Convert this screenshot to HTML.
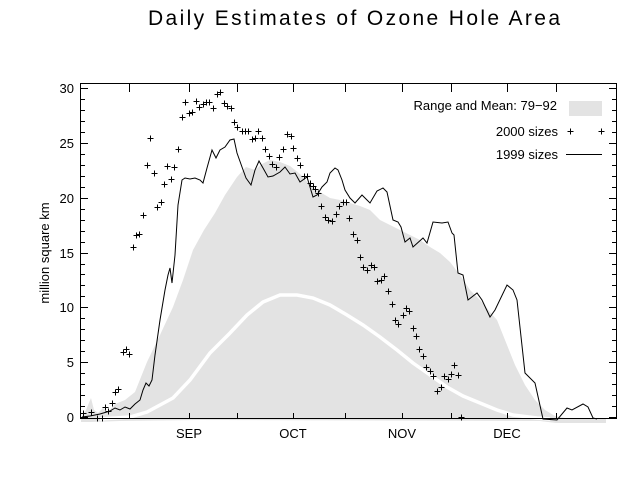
<!DOCTYPE html>
<html><head><meta charset="utf-8"><style>
html,body{margin:0;padding:0;background:#fff;}
svg{display:block;font-family:"Liberation Sans",sans-serif;}
</style></head><body>
<svg width="640" height="480" viewBox="0 0 640 480" xmlns="http://www.w3.org/2000/svg">
<rect width="640" height="480" fill="#fff"/>
<text x="354" y="25" font-size="21" text-anchor="middle" textLength="412" lengthAdjust="spacing" fill="#000">Daily Estimates of Ozone Hole Area</text>

<polygon fill="#e3e3e3" points="81,418 86,410 91,398 94,410 98,413 103,408 108,412 115,404 125,400 135,392 147,362 160,335 173,307 183,280 193,250 204,230 215,213 225,195 237,177 246,167 255,170 262,164 270,160 280,162 290,166 300,174 310,185 320,192 330,198 340,200 350,203 360,206 370,210 380,220 390,225 400,230 410,235 420,240 430,247 440,253 450,262 460,275 470,290 480,300 490,312 497,320 505,340 515,365 525,385 535,400 545,410 555,416 570,419 606,419 606,423 556,423 540,421 200,420 120,421 90,422 81,422"/>

<polyline fill="none" stroke="#fff" stroke-width="3.5" points="100,419 130,417 147,412 173,398 190,380 210,353 230,333 247,315 263,302 280,295 297,295 313,298 330,305 347,315 363,325 380,337 397,350 413,363 430,375 447,387 463,396 480,403 497,410 513,415 537,418 550,419"/>

<polyline fill="none" stroke="#000" stroke-width="1" points="82,417 90,416 100,414 110,411 115,408 120,410 125,407 130,409 135,404 140,400 143,390 146,383 149,386 152,380 155,355 160,320 165,290 168,275 170,268 172,283 175,255 178,205 182,180 185,178 190,179 195,178 200,180 203,183 207,168 212,150 216,158 220,150 225,147 230,140 234,139 237,153 242,167 246,178 251,185 255,170 259,161 263,168 268,177 273,176 280,172 285,167 290,174 295,173 300,182 307,177 313,197 317,195 322,187 327,182 330,173 335,168 338,170 342,180 345,190 350,198 355,203 362,195 367,200 370,203 377,191 383,188 387,192 393,220 398,222 401,227 405,242 410,238 413,247 423,238 427,243 433,222 442,223 448,222 452,233 454,235 458,273 463,275 468,300 477,293 482,300 490,317 495,310 507,285 513,290 517,300 525,373 535,383 543,419 557,420 567,408 572,410 583,404 588,407 593,418 597,419"/>

<g stroke="#000" stroke-width="1" shape-rendering="crispEdges" transform="translate(0.5,0.5)">
<path d="M83,413m-3,0h6m-3,-3v6M91,412m-3,0h6m-3,-3v6M97,418m-3,0h6m-3,-3v6M102,418m-3,0h6m-3,-3v6M105,407m-3,0h6m-3,-3v6M108,411m-3,0h6m-3,-3v6M112,403m-3,0h6m-3,-3v6M115,392m-3,0h6m-3,-3v6M118,389m-3,0h6m-3,-3v6M123,352m-3,0h6m-3,-3v6M126,349m-3,0h6m-3,-3v6M129,354m-3,0h6m-3,-3v6M133,247m-3,0h6m-3,-3v6M136,235m-3,0h6m-3,-3v6M139,234m-3,0h6m-3,-3v6M143,215m-3,0h6m-3,-3v6M147,165m-3,0h6m-3,-3v6M150,138m-3,0h6m-3,-3v6M154,173m-3,0h6m-3,-3v6M157,207m-3,0h6m-3,-3v6M161,202m-3,0h6m-3,-3v6M164,184m-3,0h6m-3,-3v6M167,166m-3,0h6m-3,-3v6M171,179m-3,0h6m-3,-3v6M174,167m-3,0h6m-3,-3v6M178,149m-3,0h6m-3,-3v6M182,117m-3,0h6m-3,-3v6M185,102m-3,0h6m-3,-3v6M189,113m-3,0h6m-3,-3v6M192,112m-3,0h6m-3,-3v6M196,101m-3,0h6m-3,-3v6M199,107m-3,0h6m-3,-3v6M203,104m-3,0h6m-3,-3v6M206,102m-3,0h6m-3,-3v6M209,102m-3,0h6m-3,-3v6M213,108m-3,0h6m-3,-3v6M217,94m-3,0h6m-3,-3v6M220,92m-3,0h6m-3,-3v6M224,103m-3,0h6m-3,-3v6M227,106m-3,0h6m-3,-3v6M231,108m-3,0h6m-3,-3v6M234,122m-3,0h6m-3,-3v6M237,127m-3,0h6m-3,-3v6M242,131m-3,0h6m-3,-3v6M245,131m-3,0h6m-3,-3v6M248,131m-3,0h6m-3,-3v6M252,139m-3,0h6m-3,-3v6M255,138m-3,0h6m-3,-3v6M258,131m-3,0h6m-3,-3v6M262,138m-3,0h6m-3,-3v6M265,149m-3,0h6m-3,-3v6M269,156m-3,0h6m-3,-3v6M272,164m-3,0h6m-3,-3v6M276,167m-3,0h6m-3,-3v6M279,157m-3,0h6m-3,-3v6M283,149m-3,0h6m-3,-3v6M287,134m-3,0h6m-3,-3v6M291,136m-3,0h6m-3,-3v6M293,148m-3,0h6m-3,-3v6M297,158m-3,0h6m-3,-3v6M300,165m-3,0h6m-3,-3v6M304,176m-3,0h6m-3,-3v6M307,176m-3,0h6m-3,-3v6M310,183m-3,0h6m-3,-3v6M313,186m-3,0h6m-3,-3v6M315,189m-3,0h6m-3,-3v6M318,193m-3,0h6m-3,-3v6M321,206m-3,0h6m-3,-3v6M325,217m-3,0h6m-3,-3v6M328,220m-3,0h6m-3,-3v6M332,221m-3,0h6m-3,-3v6M336,214m-3,0h6m-3,-3v6M339,206m-3,0h6m-3,-3v6M343,202m-3,0h6m-3,-3v6M346,202m-3,0h6m-3,-3v6M349,218m-3,0h6m-3,-3v6M353,234m-3,0h6m-3,-3v6M357,240m-3,0h6m-3,-3v6M360,257m-3,0h6m-3,-3v6M363,267m-3,0h6m-3,-3v6M367,270m-3,0h6m-3,-3v6M371,265m-3,0h6m-3,-3v6M374,267m-3,0h6m-3,-3v6M377,281m-3,0h6m-3,-3v6M381,280m-3,0h6m-3,-3v6M384,276m-3,0h6m-3,-3v6M388,291m-3,0h6m-3,-3v6M392,304m-3,0h6m-3,-3v6M395,320m-3,0h6m-3,-3v6M398,324m-3,0h6m-3,-3v6M403,315m-3,0h6m-3,-3v6M406,308m-3,0h6m-3,-3v6M409,311m-3,0h6m-3,-3v6M413,328m-3,0h6m-3,-3v6M416,336m-3,0h6m-3,-3v6M419,349m-3,0h6m-3,-3v6M423,356m-3,0h6m-3,-3v6M426,367m-3,0h6m-3,-3v6M430,371m-3,0h6m-3,-3v6M433,376m-3,0h6m-3,-3v6M437,391m-3,0h6m-3,-3v6M441,387m-3,0h6m-3,-3v6M444,376m-3,0h6m-3,-3v6M448,379m-3,0h6m-3,-3v6M451,374m-3,0h6m-3,-3v6M454,365m-3,0h6m-3,-3v6M458,375m-3,0h6m-3,-3v6M461,417m-3,0h6m-3,-3v6M570,131m-3,0h6m-3,-3v6M601,131m-3,0h6m-3,-3v6"/>
</g>

<rect x="80.5" y="83.5" width="536" height="335" fill="none" stroke="#000" stroke-width="1"/>
<g stroke="#000" stroke-width="1">
<path d="M80,417.5h8M80,362.5h8M80,307.5h8M80,253.5h8M80,198.5h8M80,143.5h8M80,88.5h8
M80,406.5h5M80,395.5h5M80,384.5h5M80,373.5h5M80,351.5h5M80,340.5h5M80,329.5h5M80,318.5h5M80,296.5h5M80,285.5h5M80,274.5h5M80,264.5h5M80,242.5h5M80,231.5h5M80,220.5h5M80,209.5h5M80,187.5h5M80,176.5h5M80,165.5h5M80,154.5h5M80,132.5h5M80,121.5h5M80,110.5h5M80,99.5h5
M617,417.5h-8M617,362.5h-8M617,307.5h-8M617,253.5h-8M617,198.5h-8M617,143.5h-8M617,88.5h-8
M617,406.5h-5M617,395.5h-5M617,384.5h-5M617,373.5h-5M617,351.5h-5M617,340.5h-5M617,329.5h-5M617,318.5h-5M617,296.5h-5M617,285.5h-5M617,274.5h-5M617,264.5h-5M617,242.5h-5M617,231.5h-5M617,220.5h-5M617,209.5h-5M617,187.5h-5M617,176.5h-5M617,165.5h-5M617,154.5h-5M617,132.5h-5M617,121.5h-5M617,110.5h-5M617,99.5h-5
M129.5,84v8M189.5,84v8M237.5,84v8M293.5,84v8M345.5,84v8M402.5,84v8M451.5,84v8M507.5,84v8M556.5,84v8
M129.5,418v-5M189.5,418v-5M237.5,418v-5M293.5,418v-5M345.5,418v-5M402.5,418v-5M451.5,418v-5M507.5,418v-5M556.5,418v-5"/>
</g>
<g font-size="13" fill="#000" text-anchor="end">
<text x="74" y="422">0</text><text x="74" y="367">5</text><text x="74" y="312">10</text><text x="74" y="258">15</text><text x="74" y="203">20</text><text x="74" y="148">25</text><text x="74" y="93">30</text>
</g>
<g font-size="13" fill="#000" text-anchor="middle">
<text x="189" y="438">SEP</text><text x="293" y="438">OCT</text><text x="402" y="438">NOV</text><text x="507" y="438">DEC</text>
</g>
<text transform="translate(49,253) rotate(-90)" font-size="13" text-anchor="middle" fill="#000">million square km</text>

<g font-size="13" fill="#000" text-anchor="end">
<text x="557" y="110">Range and Mean: 79−92</text>
<text x="558" y="136">2000 sizes</text>
<text x="558" y="159">1999 sizes</text>
</g>
<rect x="569" y="101" width="33" height="15" fill="#e3e3e3"/>
<line x1="566" y1="154.5" x2="602" y2="154.5" stroke="#000" stroke-width="1"/>
</svg>
</body></html>
